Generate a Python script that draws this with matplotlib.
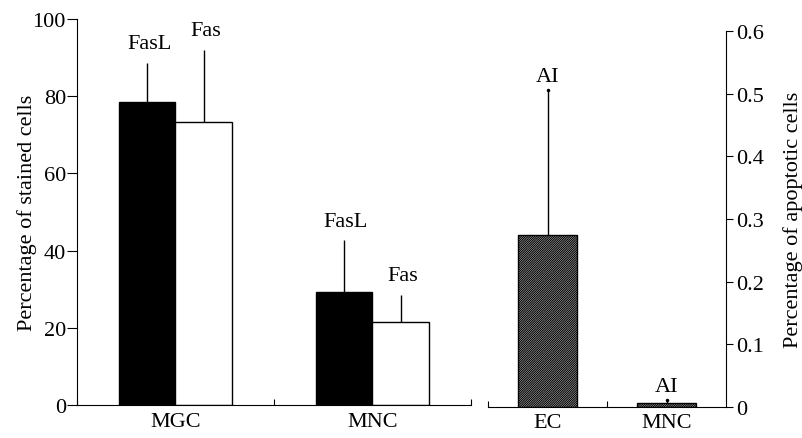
import numpy as np
import matplotlib
matplotlib.use('Agg')
import matplotlib.pyplot as plt

plt.rcParams['font.family'] = ['Liberation Serif', 'DejaVu Serif']
plt.rcParams['hatch.linewidth'] = 0.8

# 左側: 染色細胞の割合
left_groups = ['MGC', 'MNC']
fasl_vals = [78.5, 29.3]
fasl_err = [10.1, 13.4]
fas_vals = [73.3, 21.5]
fas_err = [18.7, 7.0]

# 右側: アポトーシス細胞の割合
right_groups = ['EC', 'MNC']
ai_vals = [0.274, 0.006]
ai_err = [0.232, 0.005]

fs = 16
fig = plt.figure(figsize=(8.02, 4.39), dpi=100)
ax1 = fig.add_axes([0.096, 0.0752, 0.491, 0.879])
ax2 = fig.add_axes([0.6085, 0.0706, 0.2968, 0.8565])

x = np.arange(len(left_groups))
w = 0.288
ax1.bar(x - w / 2, fasl_vals, w, color='black', edgecolor='black', linewidth=1,
        yerr=[np.zeros(2), fasl_err], error_kw=dict(ecolor='black', elinewidth=1, capsize=0))
ax1.bar(x + w / 2, fas_vals, w, color='white', edgecolor='black', linewidth=1,
        yerr=[np.zeros(2), fas_err], error_kw=dict(ecolor='black', elinewidth=1, capsize=0))

# バーのラベル
for i in range(len(left_groups)):
    ax1.text(x[i] - w / 2 + 0.01, fasl_vals[i] + fasl_err[i] + 2.5, 'FasL', ha='center', va='bottom', fontsize=fs)
    ax1.text(x[i] + w / 2 + 0.01, fas_vals[i] + fas_err[i] + 2.5, 'Fas', ha='center', va='bottom', fontsize=fs)

ax1.set_xlim(-0.5, 1.5)
ax1.set_ylim(0, 100)
ax1.set_yticks(np.arange(0, 101, 20))
ax1.set_ylabel('Percentage of stained cells', fontsize=fs, labelpad=-3)
ax1.spines['top'].set_visible(False)
ax1.spines['right'].set_visible(False)
ax1.set_xticks([-0.5, 0.5, 1.5])
ax1.set_xticklabels([])
ax1.set_xticks(x, minor=True)
ax1.set_xticklabels(left_groups, minor=True)
ax1.tick_params(axis='x', which='major', direction='in', length=4)
ax1.tick_params(axis='x', which='minor', length=0, labelsize=fs, pad=5)
ax1.tick_params(axis='y', direction='out', length=7, labelsize=fs, pad=1)

xr = np.arange(len(right_groups))
wr = 0.5
ax2.bar(xr, ai_vals, wr, color='#dddddd', edgecolor='black', linewidth=1, hatch='///////////////',
        yerr=[np.zeros(2), ai_err], error_kw=dict(ecolor='black', elinewidth=1, capsize=0))
ax2.plot(xr, np.array(ai_vals) + np.array(ai_err), 'k.', markersize=3)
for i in range(len(right_groups)):
    ax2.text(xr[i], ai_vals[i] + ai_err[i] + 0.007, 'AI', ha='center', va='bottom', fontsize=fs)

ax2.set_xlim(-0.5, 1.5)
ax2.set_ylim(0, 0.6)
ax2.set_yticks([0, 0.1, 0.2, 0.3, 0.4, 0.5, 0.6])
ax2.set_yticklabels(['0', '0.1', '0.2', '0.3', '0.4', '0.5', '0.6'])
ax2.yaxis.tick_right()
ax2.yaxis.set_label_position('right')
ax2.set_ylabel('Percentage of apoptotic cells', fontsize=fs, labelpad=14)
ax2.spines['top'].set_visible(False)
ax2.spines['left'].set_visible(False)
ax2.set_xticks([-0.5, 0.5])
ax2.set_xticklabels([])
ax2.set_xticks(xr, minor=True)
ax2.set_xticklabels(right_groups, minor=True)
ax2.tick_params(axis='x', which='major', direction='in', length=4)
ax2.tick_params(axis='x', which='minor', length=0, labelsize=fs, pad=4)
ax2.tick_params(axis='y', direction='out', length=5, labelsize=fs, pad=2)

plt.savefig('out.png', dpi=100)
